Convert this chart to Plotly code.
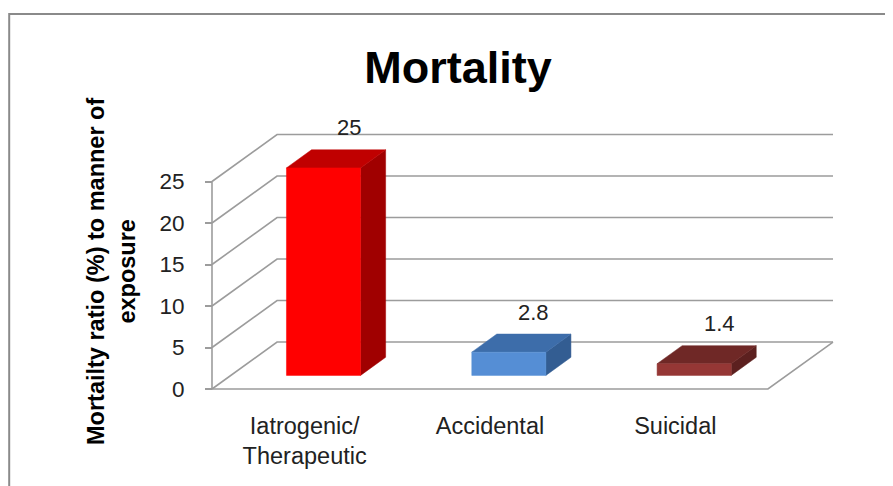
import plotly.graph_objects as go

# ---- data ----
categories = ["Iatrogenic/<br>Therapeutic", "Accidental", "Suicidal"]
values = [25, 2.8, 1.4]
value_labels = ["25", "2.8", "1.4"]
y_ticks = [0, 5, 10, 15, 20, 25]
front_colors = ["#FF0000", "#558ED5", "#953735"]
top_colors = ["#C00000", "#3D6DAA", "#6F2826"]
side_colors = ["#A00000", "#335D92", "#5C201F"]

# ---- 3D oblique projection parameters ----
DX = 0.351   # depth offset in category units
DY = 5.66    # depth offset in value units
F1, F2 = 0.29, 0.675  # bar front / back depth fraction
W = 0.4      # bar width (category units)
N = len(categories)
GRID = "#9C9C9C"
FONT = "Liberation Sans, Arial, sans-serif"

fig = go.Figure()

def line(xs, ys, color=GRID, width=1.6):
    fig.add_trace(go.Scatter(x=xs, y=ys, mode="lines", line=dict(color=color, width=width),
                             hoverinfo="skip", showlegend=False))

def poly(xs, ys, color):
    fig.add_trace(go.Scatter(x=xs + [xs[0]], y=ys + [ys[0]], mode="lines", fill="toself",
                             fillcolor=color, line=dict(color=color, width=0.5),
                             hoverinfo="skip", showlegend=False))

# walls & floor gridlines
for v in y_ticks:
    line([0, DX, N + DX], [v, v + DY, v + DY])
line([0, N, N + DX], [0, 0, DY])
line([0, 0], [0, y_ticks[-1]])

# bars
for i, v in enumerate(values):
    x0 = i + 0.5 - W / 2
    x1 = i + 0.5 + W / 2
    fx0, fx1 = x0 + F1 * DX, x1 + F1 * DX
    bx0, bx1 = x0 + F2 * DX, x1 + F2 * DX
    fy, by = F1 * DY, F2 * DY
    poly([fx1, bx1, bx1, fx1], [fy, by, v + by, v + fy], side_colors[i])
    poly([fx0, bx0, bx1, fx1], [v + fy, v + by, v + by, v + fy], top_colors[i])
    poly([fx0, fx1, fx1, fx0], [fy, fy, v + fy, v + fy], front_colors[i])
    fig.add_annotation(x=i + 0.5 + F2 * DX, y=v + by, yshift=22, text=value_labels[i],
                       showarrow=False, font=dict(family=FONT, size=22, color="#222222"))

PXU = 185.33
PW, PH = 643, 292
L, T = 192, 92
fig.update_layout(
    width=885, height=478,
    margin=dict(l=L, r=50, t=T, b=94),
    paper_bgcolor="white", plot_bgcolor="white",
    title=dict(text="<b>Mortality</b>", x=450 / 885, xanchor="center", y=1 - 59 / 478, yanchor="middle",
               font=dict(family=FONT, size=45, color="black")),
    xaxis=dict(range=[-12 / PXU, N + DX + 10 / PXU], showgrid=False, zeroline=False, showline=False,
               tickmode="array", tickvals=[i + 0.5 for i in range(N)], ticktext=categories,
               ticks="", ticklabelstandoff=17,
               tickfont=dict(family=FONT, size=23.5, color="#222222")),
    yaxis=dict(range=[-0.361, 34.82], anchor="free", position=12 / PW,
               showgrid=False, zeroline=False, showline=False,
               tickmode="array", tickvals=y_ticks, ticks="outside", ticklen=7,
               tickcolor=GRID, tickwidth=1.6, ticklabelstandoff=16,
               tickfont=dict(family=FONT, size=22.5, color="#222222")),
)

# y-axis title (centre of the two lines at x=103, y=264 in figure pixels)
fig.add_annotation(xref="paper", yref="paper", x=(103 - L) / PW, y=(T + PH - 264) / PH,
                   xanchor="center", yanchor="middle", textangle=-90, showarrow=False,
                   text="<b>Mortailty ratio (%) to manner of<br>exposure</b>",
                   font=dict(family=FONT, size=23.5, color="black"))

# chart border
fig.add_shape(type="rect", xref="paper", yref="paper",
              x0=(1.2 - L) / PW, x1=(900 - L) / PW,
              y0=(T + PH - 500) / PH, y1=(T + PH - 6) / PH,
              line=dict(color="#8A8A8A", width=2), fillcolor="rgba(0,0,0,0)", layer="below")

fig.write_html("out.html")
